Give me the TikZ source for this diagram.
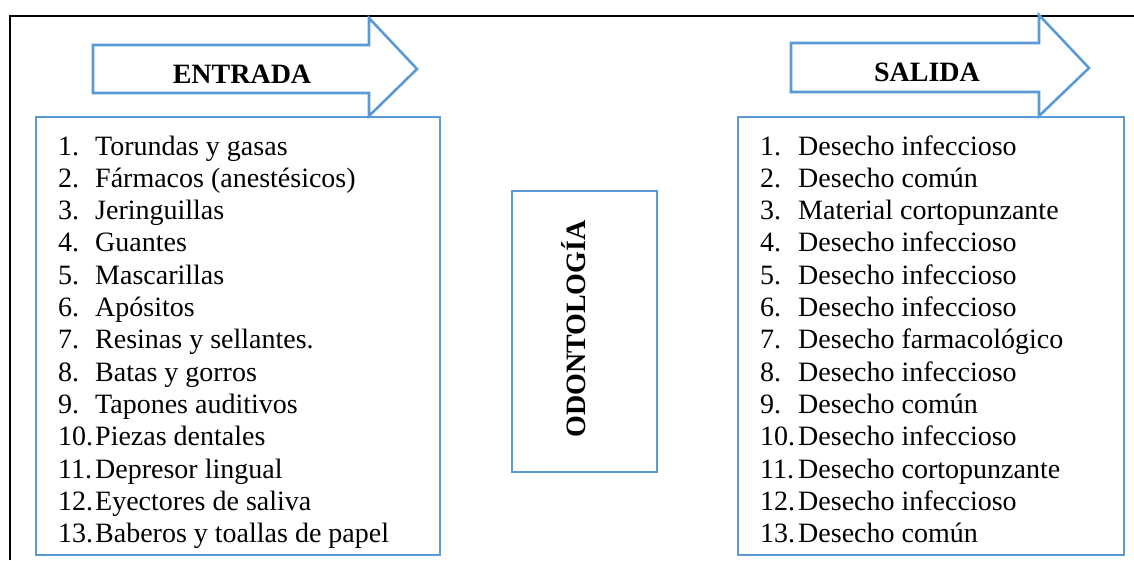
\documentclass[tikz,border=0pt]{standalone}
\usepackage{fontspec}
\setmainfont{Liberation Serif}
\definecolor{wordblue}{RGB}{91,155,213}
\begin{document}
\begin{tikzpicture}[x=1pt,y=-1pt,
  frame/.style={draw=wordblue,line width=2.6pt},
  item/.style={anchor=base west,inner sep=0pt,font=\fontsize{28}{32}\selectfont},
  title/.style={font=\fontsize{28}{32}\selectfont\bfseries,inner sep=0pt}]
\useasboundingbox (0,0) rectangle (1134,560);
% outer frame (left and top edges visible)
\draw[line width=2.8pt] (10,560) -- (10,16) -- (1134,16);

% input arrow
\draw[frame,line join=miter] (93,45) -- (369,45) -- (369,18) -- (417,69) -- (369,116) -- (369,93) -- (93,93) -- cycle;
\node[title,anchor=base] (entrada) at (242,83) {ENTRADA};
% output arrow
\draw[frame,line join=miter] (791,43) -- (1039,43) -- (1039,15) -- (1089,68) -- (1039,116) -- (1039,92) -- (791,92) -- cycle;
\node[title,anchor=base] (salida) at (927,81) {SALIDA};

% list boxes
\draw[frame] (36,117) rectangle (440,555);
\draw[frame] (738,117) rectangle (1124,555);
% process box
\draw[frame] (512,191) rectangle (657,472);
\node[title,rotate=90,anchor=center] (odonto) at (574,329) {ODONTOLOGÍA};

% input items
\foreach \t [count=\i] in {Torundas y gasas, Fármacos (anestésicos), Jeringuillas, Guantes,
  Mascarillas, Apósitos, Resinas y sellantes., Batas y gorros, Tapones auditivos,
  Piezas dentales, Depresor lingual, Eyectores de saliva, Baberos y toallas de papel}{
  \node[item] (ln\i) at (58,155+32.3*\i-32.3) {\i.};
  \node[item] (lt\i) at (95,155+32.3*\i-32.3) {\t};
}
% output items
\foreach \t [count=\i] in {Desecho infeccioso, Desecho común, Material cortopunzante,
  Desecho infeccioso, Desecho infeccioso, Desecho infeccioso, Desecho farmacológico,
  Desecho infeccioso, Desecho común, Desecho infeccioso, Desecho cortopunzante,
  Desecho infeccioso, Desecho común}{
  \node[item] (rn\i) at (760,155+32.3*\i-32.3) {\i.};
  \node[item] (rt\i) at (798,155+32.3*\i-32.3) {\t};
}
\end{tikzpicture}
\end{document}
